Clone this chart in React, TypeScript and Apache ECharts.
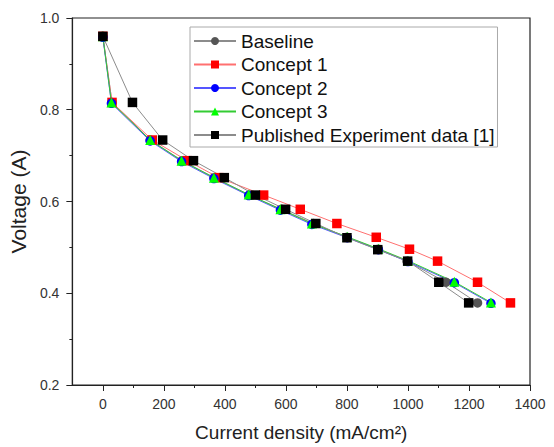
import React, { useEffect, useRef } from "react";
import * as echarts from "echarts";

const seriesNames = ["Baseline", "Concept 1", "Concept 2", "Concept 3", "Published Experiment data [1]"];

const baselineX = [0, 30, 155, 260, 365, 480, 585, 690, 800, 903, 997, 1125, 1228];
const baselineY = [0.96, 0.816, 0.734, 0.689, 0.652, 0.614, 0.583, 0.552, 0.522, 0.496, 0.47, 0.424, 0.379];

const concept1X = [0, 30, 162, 277, 380, 527, 647, 767, 896, 1005, 1097, 1228, 1336];
const concept1Y = [0.96, 0.816, 0.734, 0.689, 0.652, 0.614, 0.583, 0.552, 0.522, 0.496, 0.47, 0.424, 0.379];

const concept2X = [0, 28, 155, 258, 364, 478, 582, 685, 801, 903, 1000, 1152, 1272];
const concept2Y = [0.958, 0.814, 0.732, 0.687, 0.65, 0.613, 0.581, 0.55, 0.521, 0.495, 0.469, 0.423, 0.378];

const concept3X = [0, 28, 155, 258, 364, 478, 582, 685, 801, 903, 1000, 1152, 1272];
const concept3Y = [0.96, 0.816, 0.734, 0.689, 0.652, 0.615, 0.583, 0.552, 0.523, 0.497, 0.471, 0.425, 0.38];

const publishedX = [0, 97, 196, 297, 398, 500, 599, 698, 800, 901, 999, 1101, 1199];
const publishedY = [0.96, 0.816, 0.734, 0.689, 0.652, 0.614, 0.583, 0.552, 0.521, 0.495, 0.47, 0.424, 0.379];

const xMajorTicks = [0, 200, 400, 600, 800, 1000, 1200, 1400];
const xMinorTicks = [100, 300, 500, 700, 900, 1100, 1300];

const pairs = (xs: number[], ys: number[]) => xs.map((x, i) => [x, ys[i]]);

export default function App() {
  const ref = useRef<HTMLDivElement>(null);
  useEffect(() => {
    if (!ref.current) return;
    const chart = echarts.init(ref.current, null, { renderer: "svg" });
    const font = "Liberation Sans, Arial, sans-serif";
    const mk = (name: string, xs: number[], ys: number[], symbol: string, size: number, markerColor: string, lineColor: string) => ({
      name,
      type: "line",
      data: pairs(xs, ys),
      symbol,
      symbolSize: size,
      showAllSymbol: true,
      itemStyle: { color: markerColor, borderWidth: 0 },
      lineStyle: { color: lineColor, width: 1 },
      xAxisIndex: 0,
      yAxisIndex: 0,
    });
    chart.setOption({
      animation: false,
      backgroundColor: "#fff",
      grid: { left: 72, right: 24, top: 18, bottom: 59, show: true, borderColor: "#222", borderWidth: 1.2, containLabel: false },
      legend: {
        orient: "vertical",
        left: 190,
        top: 27,
        padding: [4.5, 3, 2.5, 3],
        itemWidth: 42,
        itemHeight: 10,
        itemGap: 4.5,
        borderColor: "#aaa",
        borderWidth: 1,
        backgroundColor: "#fff",
        textStyle: { fontFamily: font, fontSize: 19, color: "#111", lineHeight: 19 },
        data: seriesNames,
      },
      xAxis: [
        {
          type: "value",
          min: -100,
          max: 1400,
          name: "Current density (mA/cm²)",
          nameLocation: "middle",
          nameGap: 38,
          nameTextStyle: { fontFamily: font, fontSize: 19, color: "#222" },
          axisLine: { show: true, onZero: false, lineStyle: { color: "#222", width: 1.2 } },
          axisTick: { show: true, inside: false, length: 6, customValues: xMajorTicks, lineStyle: { color: "#222" } },
          axisLabel: { customValues: xMajorTicks, margin: 12, fontFamily: font, fontSize: 14, color: "#333", formatter: (v: number) => String(v) },
          splitLine: { show: false },
        },
        {
          type: "value",
          min: -100,
          max: 1400,
          position: "bottom",
          axisLine: { show: false, onZero: false },
          axisTick: { show: true, inside: false, length: 3, customValues: xMinorTicks, lineStyle: { color: "#222" } },
          axisLabel: { show: false, customValues: xMinorTicks },
          splitLine: { show: false },
        },
      ],
      yAxis: {
        type: "value",
        min: 0.2,
        max: 1.0,
        interval: 0.2,
        name: "Voltage (A)",
        nameLocation: "middle",
        nameGap: 36,
        nameTextStyle: { fontFamily: font, fontSize: 21, color: "#222" },
        axisLine: { show: true, onZero: false, lineStyle: { color: "#222", width: 1.2 } },
        axisTick: { show: true, inside: false, length: 6, lineStyle: { color: "#222" } },
        minorTick: { show: true, splitNumber: 2, length: 3, lineStyle: { color: "#222" } },
        axisLabel: { margin: 13, fontFamily: font, fontSize: 14, color: "#333", formatter: (v: number) => v.toFixed(1) },
        splitLine: { show: false },
      },
      series: [
        mk(seriesNames[0], baselineX, baselineY, "circle", 9.5, "#555555", "#8c8c8c"),
        mk(seriesNames[1], concept1X, concept1Y, "rect", 9.5, "#ff0000", "#ff7070"),
        mk(seriesNames[2], concept2X, concept2Y, "circle", 9.5, "#0000ff", "#5555ff"),
        mk(seriesNames[3], concept3X, concept3Y, "triangle", 10, "#00ff00", "#33cc33"),
        mk(seriesNames[4], publishedX, publishedY, "rect", 9.5, "#000000", "#8c8c8c"),
      ],
    });
    return () => chart.dispose();
  }, []);
  return <div ref={ref} style={{ width: 554, height: 447, position: "absolute", left: 0, top: 0 }} />;
}
